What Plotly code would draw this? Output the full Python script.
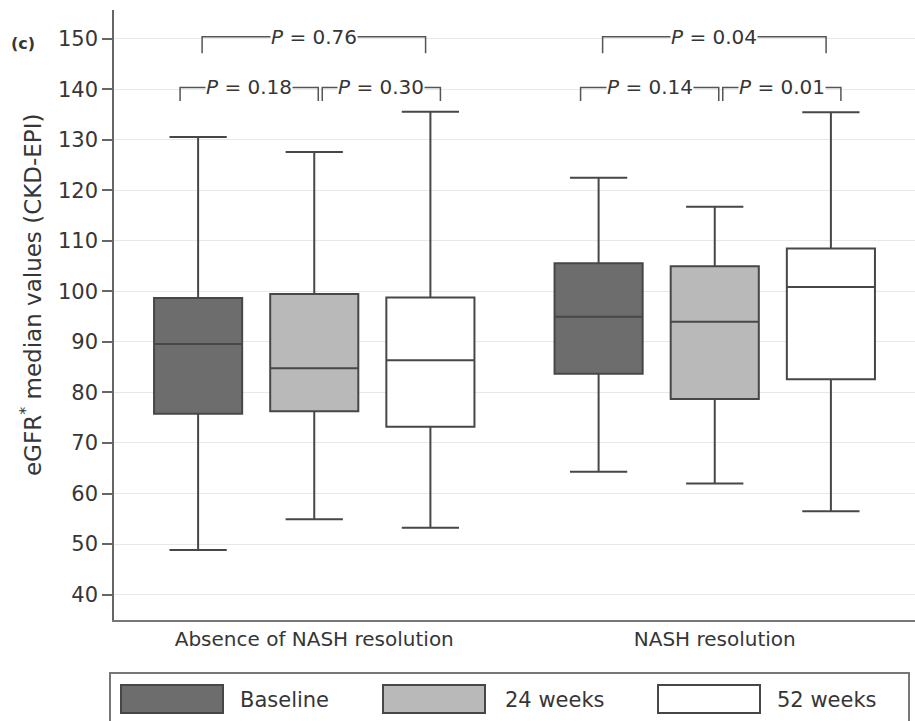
import plotly.graph_objects as go

# ---------------- data ----------------
groups = ["Absence of NASH resolution", "NASH resolution"]
series = ["Baseline", "24 weeks", "52 weeks"]

# per series: [absence, resolution]
lower_whisker = [[48.8, 64.3], [54.9, 62.0], [53.2, 56.5]]
q1_values = [[75.8, 83.7], [76.3, 78.7], [73.2, 82.6]]
median_values = [[89.6, 95.0], [84.8, 94.0], [86.4, 100.9]]
q3_values = [[98.7, 105.6], [99.5, 105.0], [98.8, 108.5]]
upper_whisker = [[130.6, 122.5], [127.6, 116.8], [135.6, 135.5]]

# comparisons per group: (series a, series b, p-value)
comparisons_absence = [(0, 1, "0.18"), (1, 2, "0.30"), (0, 2, "0.76")]
comparisons_resolution = [(0, 1, "0.14"), (1, 2, "0.01"), (0, 2, "0.04")]

y_ticks = [40, 50, 60, 70, 80, 90, 100, 110, 120, 130, 140, 150]

# ---------------- style ----------------
fills = ["#6d6d6d", "#b9b9b9", "#ffffff"]
line_col = "#474747"
text_col = "#363636"
FONT = "DejaVu Sans"
group_pos = [0, 1]
offsets = [-0.29, 0.0, 0.29]
BOXW = 0.22

W, H = 915, 721
ML, MR, MT, MB = 114, 0, 10, 101
PW, PH = W - ML - MR, H - MT - MB
YR = [34.95, 155.74]

def px_to_paper_x(px):
    return (px - ML) / PW

def px_to_paper_y(py):
    return (H - MB - py) / PH

fig = go.Figure()

for si, name in enumerate(series):
    xs = [g + offsets[si] for g in group_pos]
    fig.add_trace(go.Box(
        x=xs,
        q1=q1_values[si], median=median_values[si], q3=q3_values[si],
        lowerfence=lower_whisker[si], upperfence=upper_whisker[si],
        name=name, boxpoints=False, width=BOXW, whiskerwidth=0.65,
        fillcolor=fills[si], line=dict(color=line_col, width=2),
        showlegend=False, hoverinfo="skip",
    ))

# significance brackets
shapes = []
annotations = []
LOW_Y, LOW_LEG = 140.4, 137.7
TOP_Y, TOP_LEG = 150.46, 147.2
br_col = "#555555"
for g, comps in zip(group_pos, [comparisons_absence, comparisons_resolution]):
    for a, b, p in comps:
        ca, cb = g + offsets[a], g + offsets[b]
        if b - a == 2:
            x0, x1, yh, yl = ca + 0.01, cb - 0.012, TOP_Y, TOP_LEG
        elif a == 0:
            x0, x1, yh, yl = ca - 0.045, cb + 0.01, LOW_Y, LOW_LEG
        else:
            x0, x1, yh, yl = ca + 0.02, cb + 0.025, LOW_Y, LOW_LEG
        path = f"M {x0},{yl} L {x0},{yh} L {x1},{yh} L {x1},{yl}"
        shapes.append(dict(type="path", path=path, xref="x", yref="y",
                           line=dict(color=br_col, width=1.5)))
        annotations.append(dict(
            x=(x0 + x1) / 2, y=yh, xref="x", yref="y",
            text=f"<i>P</i> = {p}", showarrow=False,
            font=dict(family=FONT, size=20, color=text_col),
            bgcolor="white", borderpad=0, xanchor="center", yanchor="middle"))

# y-axis title and panel label
annotations.append(dict(
    x=px_to_paper_x(31), y=99.3, xref="paper", yref="y",
    text="eGFR<sup>*</sup> median values (CKD-EPI)", textangle=-90,
    showarrow=False, font=dict(family=FONT, size=23, color=text_col),
    xanchor="center", yanchor="middle"))
annotations.append(dict(
    x=px_to_paper_x(23), y=149.2, xref="paper", yref="y",
    text="<b>(c)</b>", showarrow=False,
    font=dict(family=FONT, size=16, color=text_col),
    xanchor="center", yanchor="middle"))

# custom legend at bottom
shapes.append(dict(type="rect", xref="paper", yref="paper",
                   x0=px_to_paper_x(110), x1=px_to_paper_x(909),
                   y0=px_to_paper_y(724), y1=px_to_paper_y(673),
                   line=dict(color="#777777", width=2), fillcolor="rgba(0,0,0,0)"))
sw_left = [121, 383, 658]
sw_w = 102
lab_left = [238, 503, 775]
for si, name in enumerate(series):
    shapes.append(dict(type="rect", xref="paper", yref="paper",
                       x0=px_to_paper_x(sw_left[si]), x1=px_to_paper_x(sw_left[si] + sw_w),
                       y0=px_to_paper_y(713), y1=px_to_paper_y(685),
                       line=dict(color=line_col, width=2), fillcolor=fills[si]))
    annotations.append(dict(
        x=px_to_paper_x(lab_left[si]), y=px_to_paper_y(700), xref="paper", yref="paper",
        text=name, showarrow=False, xanchor="left", yanchor="middle",
        font=dict(family=FONT, size=21, color=text_col)))

fig.update_layout(
    width=W, height=H, autosize=False,
    margin=dict(l=ML, r=MR, t=MT, b=MB),
    paper_bgcolor="white", plot_bgcolor="white",
    font=dict(family=FONT, color=text_col),
    shapes=shapes, annotations=annotations,
    boxmode="overlay",
    xaxis=dict(
        range=[-0.5, 1.5], tickmode="array", tickvals=group_pos, ticktext=groups,
        showgrid=False, zeroline=False, showline=True, linecolor="#777777", linewidth=2,
        ticks="", tickfont=dict(family=FONT, size=20, color=text_col),
    ),
    yaxis=dict(
        range=YR, tickmode="array", tickvals=y_ticks,
        showgrid=True, gridcolor="#e8e8e8", gridwidth=1, zeroline=False,
        showline=True, linecolor="#666666", linewidth=1.5,
        ticks="outside", ticklen=10, tickcolor="#666666", tickwidth=1.5,
        tickfont=dict(family=FONT, size=21, color=text_col),
    ),
)

fig.write_html(
    "out.html",
    config={"displayModeBar": False},
    post_script="document.body.style.margin='0';document.body.style.padding='0';"
                "document.body.style.overflow='hidden';"
                "document.documentElement.style.overflow='hidden';",
)
